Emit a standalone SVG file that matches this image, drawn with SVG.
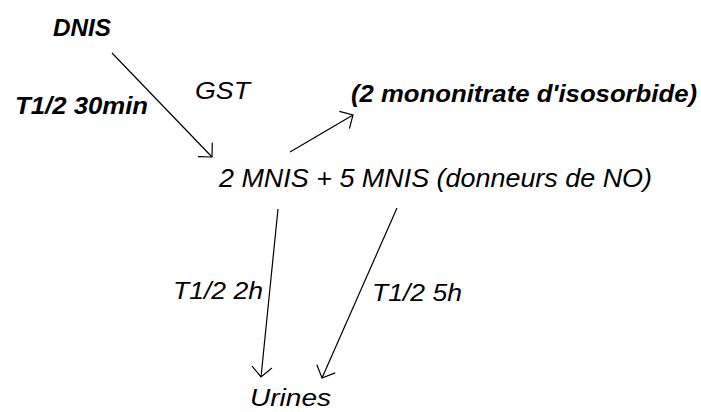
<svg xmlns="http://www.w3.org/2000/svg" width="701" height="412" viewBox="0 0 701 412">
  <style>
    text { font-family: "Liberation Sans", Arial, sans-serif; font-style: italic; fill: #000; }
    .reg { font-size: 24px; font-weight: normal; }
    .bold { font-size: 24px; font-weight: bold; }
    .main { font-size: 26px; font-weight: normal; }
    .edge { stroke: #000; stroke-width: 1.2; fill: none; marker-end: url(#head); }
  </style>
  <defs>
    <!-- open chevron arrowhead -->
    <marker id="head" markerUnits="userSpaceOnUse" viewBox="-14 -12 16 24" refX="0" refY="0" markerWidth="16" markerHeight="24" orient="auto" overflow="visible">
      <path d="M-10,-10 L0,0 L-10,10" stroke="#000" stroke-width="1.2" fill="none"/>
    </marker>
  </defs>

  <rect width="701" height="412" fill="#fff"/>

  <g id="connectors">
    <line class="edge" x1="112" y1="53" x2="212" y2="157"/>
    <line class="edge" x1="290" y1="152" x2="353" y2="115"/>
    <line class="edge" x1="278" y1="209" x2="261" y2="377"/>
    <line class="edge" x1="397" y1="208" x2="322" y2="378"/>
  </g>

  <g id="dnis">
    <text class="bold" x="53" y="36" textLength="58" lengthAdjust="spacingAndGlyphs">DNIS</text>
  </g>
  <g id="label-t30">
    <text class="bold" x="15" y="114" textLength="133" lengthAdjust="spacingAndGlyphs">T1/2 30min</text>
  </g>
  <g id="gst">
    <text class="reg" x="195" y="99" textLength="55" lengthAdjust="spacingAndGlyphs">GST</text>
  </g>
  <g id="mononitrate">
    <text class="bold" x="351" y="102" textLength="346" lengthAdjust="spacingAndGlyphs">(2 mononitrate d'isosorbide)</text>
  </g>
  <g id="mnis">
    <text class="main" x="219" y="187" textLength="433" lengthAdjust="spacingAndGlyphs">2 MNIS + 5 MNIS (donneurs de NO)</text>
  </g>
  <g id="label-t2h">
    <text class="reg" x="173" y="299" textLength="90" lengthAdjust="spacingAndGlyphs">T1/2 2h</text>
  </g>
  <g id="label-t5h">
    <text class="reg" x="372" y="301" textLength="90" lengthAdjust="spacingAndGlyphs">T1/2 5h</text>
  </g>
  <g id="urines">
    <text class="reg" x="250" y="406" textLength="81" lengthAdjust="spacingAndGlyphs">Urines</text>
  </g>
</svg>
